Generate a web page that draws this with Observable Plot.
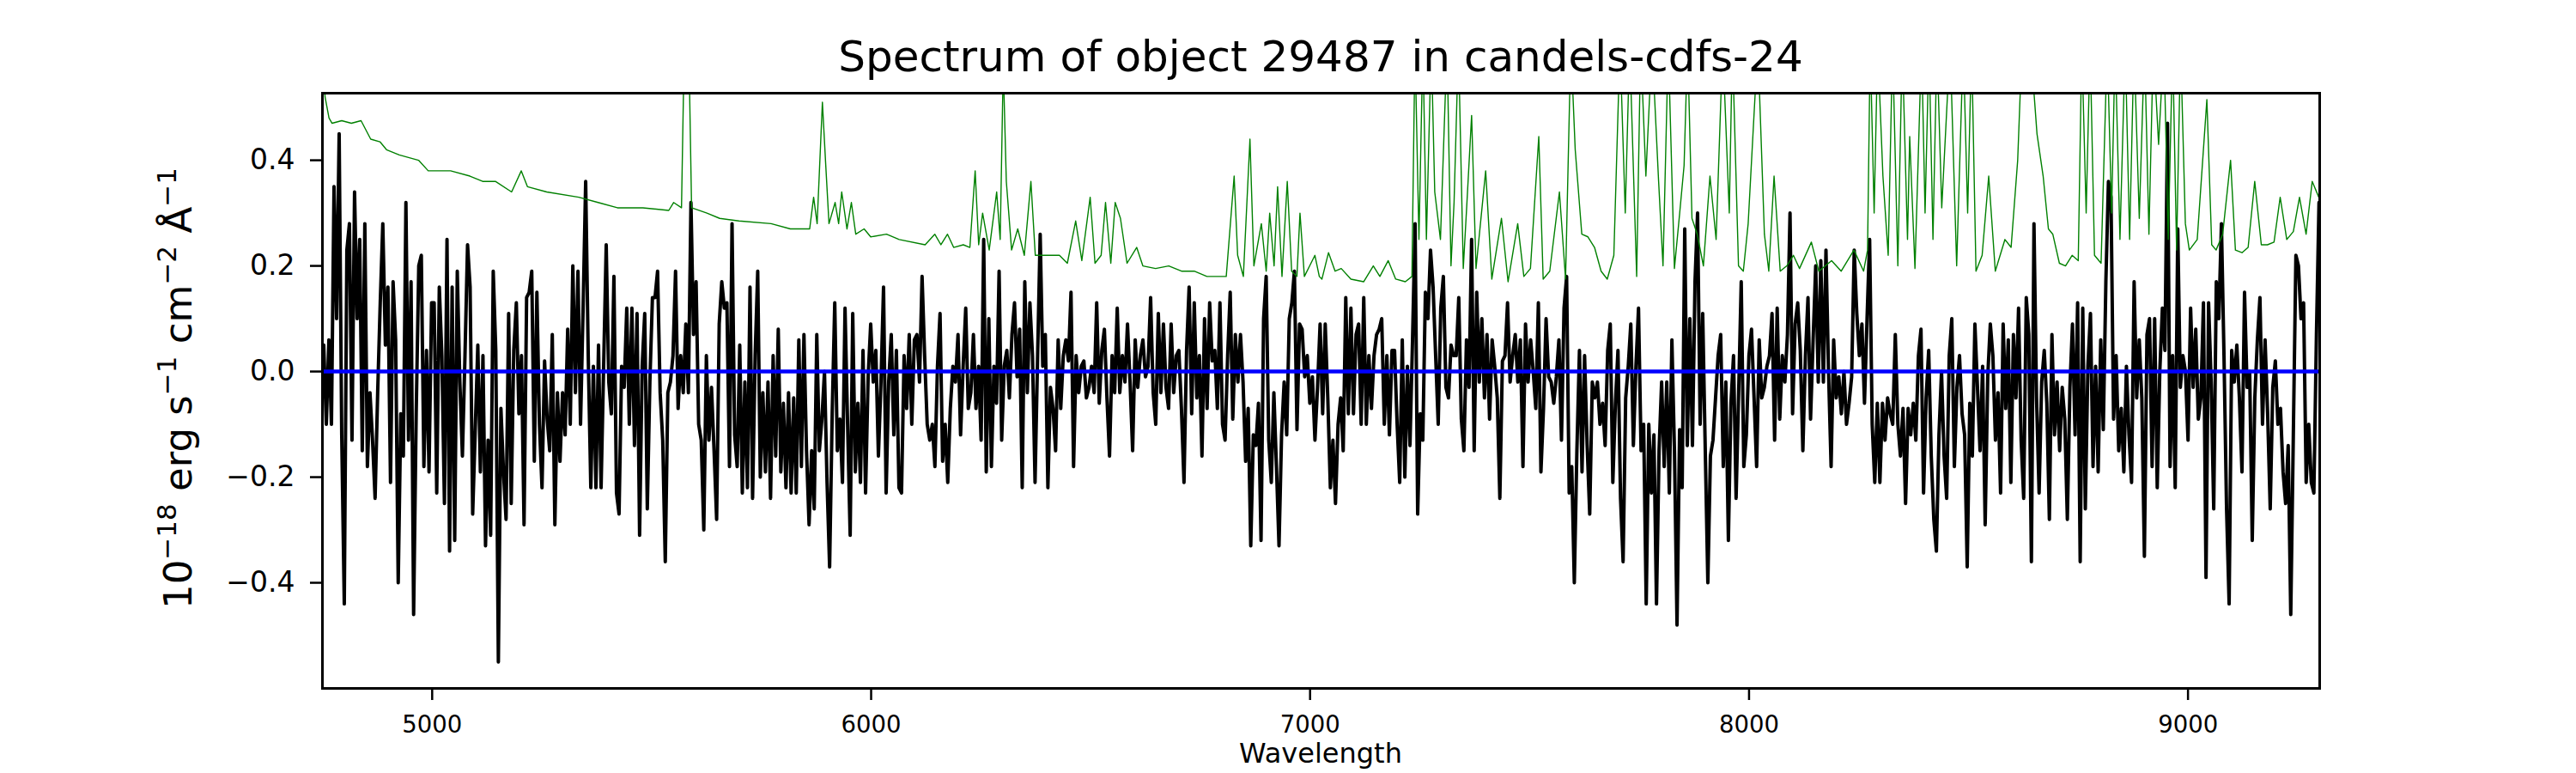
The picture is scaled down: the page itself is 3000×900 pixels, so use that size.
<!DOCTYPE html>
<html>
<head>
<meta charset="utf-8">
<script src="https://cdn.jsdelivr.net/npm/d3@7"></script>
<script src="https://cdn.jsdelivr.net/npm/@observablehq/plot@0.6"></script>
<style>
html, body { margin: 0; padding: 0; background: #fff; }
#chart { width: 3000px; height: 900px; }
</style>
</head>
<body>
<div id="chart"></div>
<script>
const title = "Spectrum of object 29487 in candels-cdfs-24";
const xLabel = "Wavelength";
const xTicks = [5000, 6000, 7000, 8000, 9000];
const yTicks = [-0.4, -0.2, 0.0, 0.2, 0.4];
const xDomain = [4750, 9300];
const yDomain = [-0.6, 0.527];

// observed flux (black), regular wavelength sampling
const fluxStart = 4753;
const fluxStep = 5.85;
const flux = [
0.05,-0.10,0.06,-0.10,0.35,0.10,0.45,-0.12,-0.44,0.23,
0.28,-0.13,0.34,0.10,0.25,-0.15,0.28,-0.18,-0.04,-0.13,
-0.24,-0.04,0.13,0.28,0.05,0.16,-0.21,0.17,0.06,-0.40,
-0.08,-0.16,0.32,-0.13,0.17,-0.46,-0.08,0.20,0.22,-0.18,
0.04,-0.19,0.13,0.13,-0.23,0.16,0.03,-0.25,0.25,-0.34,
0.16,-0.32,0.19,-0.02,-0.16,0.03,0.24,0.16,-0.27,-0.11,
0.05,-0.19,0.03,-0.33,-0.13,-0.31,0.19,0.04,-0.55,-0.07,
-0.19,-0.28,0.11,-0.25,0.04,0.13,-0.08,0.03,-0.29,0.14,
0.15,0.19,-0.17,0.15,-0.10,-0.22,0.02,-0.09,-0.15,0.07,
-0.29,-0.04,-0.17,-0.04,-0.12,0.08,-0.10,0.20,-0.04,0.19,
-0.10,0.12,0.36,0.03,-0.22,0.01,-0.22,0.05,-0.22,0.01,
0.24,-0.02,-0.08,0.18,-0.23,-0.27,0.01,-0.03,0.12,-0.10,
0.12,-0.14,0.11,-0.31,0.01,0.11,-0.26,-0.02,0.14,0.14,
0.19,-0.04,-0.13,-0.36,-0.04,-0.02,0.03,0.19,-0.07,0.03,
-0.04,0.09,-0.04,0.32,0.07,0.17,-0.10,-0.13,-0.30,0.03,
-0.13,-0.03,-0.15,-0.28,0.09,0.17,0.12,0.13,-0.18,0.28,
-0.12,-0.18,0.05,-0.23,-0.02,-0.22,0.16,-0.24,0.03,0.19,
-0.20,-0.04,-0.19,-0.02,-0.24,0.03,-0.16,0.08,-0.19,-0.06,
-0.22,-0.04,-0.23,-0.05,-0.23,0.06,-0.18,0.07,-0.15,-0.29,
-0.15,-0.26,0.07,-0.15,-0.09,0.00,-0.21,-0.37,-0.08,0.13,
-0.15,-0.09,-0.21,0.12,-0.10,-0.31,0.11,-0.19,-0.06,-0.21,
0.04,-0.23,-0.01,0.09,-0.02,0.04,-0.16,-0.02,0.16,-0.23,
-0.02,0.07,-0.12,0.04,-0.22,-0.23,0.03,-0.07,0.07,-0.10,
0.06,0.07,-0.02,0.18,0.03,-0.10,-0.13,-0.10,-0.18,0.01,
0.11,-0.17,-0.10,-0.21,-0.07,0.01,-0.02,0.07,-0.12,0.01,
0.12,-0.07,-0.04,0.07,-0.07,0.01,-0.13,0.25,-0.19,0.10,
-0.18,0.01,-0.06,0.19,-0.13,0.01,0.04,-0.05,0.07,0.13,
-0.01,0.08,-0.22,0.17,-0.04,0.13,0.03,-0.21,0.03,0.26,
0.01,0.07,-0.22,-0.03,-0.07,-0.15,0.06,-0.07,0.03,0.06,
0.02,0.15,-0.18,0.03,-0.04,0.01,0.02,-0.05,-0.03,0.01,
-0.04,0.13,-0.06,0.04,0.08,-0.05,-0.16,0.03,-0.04,0.12,
-0.04,0.03,-0.02,0.09,-0.02,-0.15,0.06,-0.03,0.03,0.06,
-0.01,0.01,0.14,-0.04,-0.10,0.11,-0.04,0.09,-0.03,-0.07,
0.09,-0.04,0.03,0.04,-0.07,-0.21,0.04,0.16,-0.08,0.13,
-0.05,0.03,-0.16,0.10,-0.07,0.13,0.02,0.04,-0.07,0.13,
-0.10,-0.13,0.03,0.15,-0.09,0.07,-0.02,0.07,-0.02,-0.17,
-0.07,-0.33,-0.12,-0.14,-0.06,-0.32,0.10,0.18,-0.13,-0.21,
-0.04,-0.18,-0.33,-0.12,-0.02,-0.12,0.10,0.13,0.19,-0.11,
0.09,0.08,-0.01,0.03,-0.06,-0.01,-0.13,-0.03,0.09,-0.08,
0.09,-0.05,-0.22,-0.13,-0.25,-0.10,-0.05,-0.15,0.14,-0.08,
0.12,-0.08,0.07,0.09,-0.10,0.14,-0.10,0.03,-0.07,0.03,
0.07,0.08,0.10,-0.10,0.03,-0.12,0.04,0.04,-0.10,-0.21,
0.06,-0.20,0.01,-0.14,0.06,0.28,-0.27,-0.08,-0.13,0.15,
0.10,0.23,0.16,0.03,-0.10,0.12,0.18,-0.03,-0.05,0.05,
0.03,0.03,0.14,-0.09,-0.15,0.06,-0.03,0.25,-0.15,0.15,
-0.02,0.10,-0.05,0.07,-0.09,0.06,0.01,-0.05,-0.24,0.02,
0.03,0.13,-0.02,0.03,0.07,-0.02,0.06,-0.18,0.09,-0.02,
0.06,0.00,-0.07,0.13,-0.19,-0.07,0.10,-0.01,-0.02,-0.06,
-0.01,0.06,-0.13,0.12,0.18,-0.23,-0.18,-0.40,-0.15,0.04,
-0.19,0.03,-0.14,-0.27,-0.02,-0.05,-0.02,-0.10,-0.06,-0.14,
0.04,0.09,-0.21,-0.06,0.04,-0.24,-0.36,-0.05,0.01,0.09,
-0.14,0.01,0.12,-0.15,-0.10,-0.44,-0.10,-0.23,-0.12,-0.44,
-0.15,-0.02,-0.18,-0.02,-0.23,0.06,-0.15,-0.48,-0.11,-0.22,
0.27,-0.14,0.10,-0.14,0.17,0.30,-0.10,0.11,-0.15,-0.40,
-0.16,-0.13,-0.05,0.03,0.07,-0.18,-0.02,-0.32,-0.06,0.03,
-0.24,-0.04,0.17,-0.18,-0.12,0.03,0.08,-0.05,-0.18,0.06,
-0.05,-0.03,0.01,0.03,0.11,-0.13,0.12,-0.09,0.03,-0.02,
0.07,0.30,-0.08,0.09,0.13,0.04,-0.15,0.03,0.14,-0.09,
0.06,0.20,-0.02,0.21,-0.02,0.23,0.00,-0.18,0.06,-0.05,
-0.01,-0.08,0.00,-0.10,-0.06,-0.01,0.23,0.11,0.03,0.09,
-0.06,0.10,0.25,-0.10,-0.21,-0.06,-0.21,-0.06,-0.13,-0.05,
-0.08,-0.10,0.07,-0.10,-0.16,-0.07,-0.25,-0.07,-0.12,-0.06,
-0.13,0.03,0.08,-0.23,-0.05,0.04,-0.16,-0.28,-0.34,-0.12,
0.00,-0.16,-0.24,0.03,0.10,-0.18,-0.03,0.03,-0.08,-0.12,
-0.37,-0.06,-0.16,0.09,-0.03,-0.15,0.01,-0.29,-0.01,0.09,
0.03,-0.13,-0.04,-0.23,0.09,-0.07,0.06,-0.21,0.07,-0.05,
0.12,-0.13,-0.24,0.14,0.07,-0.36,0.28,-0.05,-0.23,-0.02,
0.04,-0.06,-0.28,0.07,-0.12,-0.02,-0.15,-0.03,-0.09,-0.28,
-0.03,0.09,-0.12,0.13,-0.36,0.12,-0.26,0.01,0.11,-0.18,
0.01,-0.19,0.06,-0.11,0.17,0.36,0.33,-0.09,0.03,-0.15,
-0.07,-0.19,0.01,-0.12,-0.21,0.17,-0.05,0.06,-0.05,-0.35,
0.07,0.10,-0.18,0.10,-0.22,0.00,0.12,0.04,0.47,-0.18,
0.03,-0.22,0.27,-0.03,0.03,0.00,-0.13,0.12,-0.03,0.08,
-0.09,-0.05,0.13,-0.39,0.13,-0.02,-0.26,0.17,0.10,0.28,
0.03,-0.26,-0.44,0.04,-0.02,0.05,-0.05,-0.19,0.15,-0.03,
0.00,-0.32,-0.05,0.06,0.14,-0.10,0.06,-0.08,-0.26,-0.03,
0.02,-0.10,-0.07,-0.19,-0.25,-0.14,-0.46,-0.12,0.22,0.20,
0.10,0.13,-0.21,-0.10,-0.21,-0.23,0.07,0.32
];

// noise spectrum (green)
const noiseWave = [
4750,4756,4765,4772,4794,4816,4838,4860,4881,4896,
4925,4969,4991,5042,5086,5115,5144,5181,5203,5217,
5261,5334,5378,5422,5480,5539,5550,5568,5575,5584,
5591,5626,5655,5699,5772,5816,5860,5869,5877,5889,
5896,5904,5918,5926,5933,5945,5955,5965,5984,5999,
6035,6064,6123,6145,6159,6174,6188,6210,6225,6237,
6245,6254,6269,6286,6294,6301,6308,6320,6334,6349,
6364,6374,6400,6429,6447,6466,6480,6499,6510,6524,
6534,6546,6556,6568,6583,6605,6619,6648,6678,6707,
6736,6765,6809,6827,6835,6848,6863,6872,6889,6900,
6908,6918,6926,6936,6948,6958,6970,6977,6987,7011,
7021,7027,7042,7057,7071,7093,7122,7144,7159,7178,
7195,7217,7232,7239,7248,7257,7265,7276,7284,7297,
7312,7321,7328,7338,7349,7357,7368,7378,7400,7414,
7436,7451,7473,7487,7502,7521,7531,7546,7568,7582,
7594,7604,7619,7633,7648,7663,7677,7692,7706,7718,
7728,7737,7744,7753,7765,7779,7794,7804,7816,7830,
7842,7852,7860,7870,7882,7896,7911,7925,7940,7955,
7962,7976,7987,7998,8020,8035,8045,8057,8071,8086,
8101,8115,8142,8159,8188,8210,8239,8261,8270,8276,
8285,8293,8305,8317,8327,8339,8349,8361,8366,8378,
8393,8401,8410,8419,8428,8439,8458,8473,8488,8498,
8507,8517,8531,8546,8561,8583,8597,8612,8622,8641,
8656,8670,8682,8692,8707,8721,8736,8750,8758,8768,
8777,8787,8802,8816,8826,8834,8845,8857,8867,8877,
8889,8901,8911,8921,8933,8945,8955,8965,8974,8983,
8994,9003,9021,9043,9054,9064,9079,9097,9108,9123,
9137,9152,9167,9181,9196,9210,9225,9240,9254,9269,
9283,9298
];
const noiseFlux = [
0.60,0.52,0.48,0.47,0.475,0.47,0.475,0.44,0.435,0.42,
0.41,0.40,0.38,0.38,0.37,0.36,0.36,0.34,0.38,0.35,
0.34,0.33,0.32,0.31,0.31,0.305,0.32,0.31,0.65,0.65,
0.31,0.30,0.29,0.285,0.28,0.27,0.27,0.33,0.28,0.51,
0.40,0.28,0.32,0.28,0.34,0.27,0.32,0.26,0.27,0.255,
0.26,0.25,0.24,0.26,0.24,0.26,0.235,0.24,0.235,0.38,
0.24,0.30,0.23,0.34,0.25,0.58,0.36,0.23,0.27,0.22,
0.36,0.22,0.22,0.22,0.205,0.285,0.21,0.33,0.205,0.22,
0.32,0.205,0.32,0.29,0.205,0.235,0.20,0.195,0.20,0.19,
0.19,0.18,0.18,0.37,0.22,0.18,0.44,0.20,0.28,0.19,
0.30,0.20,0.35,0.18,0.36,0.19,0.18,0.30,0.18,0.22,
0.18,0.175,0.225,0.19,0.195,0.175,0.17,0.20,0.18,0.21,
0.175,0.17,0.18,0.62,0.25,0.62,0.25,0.62,0.34,0.25,
0.62,0.20,0.32,0.62,0.195,0.315,0.485,0.195,0.38,0.175,
0.29,0.17,0.28,0.18,0.195,0.445,0.175,0.19,0.34,0.175,
0.62,0.42,0.26,0.255,0.235,0.19,0.175,0.22,0.62,0.30,
0.62,0.37,0.18,0.62,0.37,0.62,0.36,0.20,0.62,0.195,
0.30,0.39,0.62,0.29,0.26,0.20,0.37,0.25,0.62,0.30,
0.62,0.20,0.19,0.28,0.62,0.26,0.19,0.37,0.19,0.20,
0.22,0.195,0.245,0.19,0.21,0.19,0.23,0.19,0.23,0.62,
0.30,0.62,0.37,0.22,0.62,0.20,0.62,0.25,0.445,0.195,
0.62,0.30,0.62,0.25,0.62,0.31,0.62,0.20,0.62,0.30,
0.62,0.19,0.22,0.37,0.19,0.25,0.235,0.40,0.62,0.62,
0.45,0.37,0.27,0.26,0.205,0.20,0.22,0.21,0.62,0.30,
0.62,0.22,0.205,0.62,0.30,0.62,0.25,0.62,0.25,0.62,
0.29,0.62,0.26,0.62,0.43,0.62,0.25,0.62,0.23,0.62,
0.28,0.23,0.25,0.515,0.24,0.23,0.26,0.40,0.23,0.225,
0.235,0.36,0.24,0.24,0.245,0.33,0.25,0.265,0.33,0.26,
0.36,0.33
];

// model continuum (blue)
const modelLevel = [0];

const fluxData = flux.map((v, i) => ({w: fluxStart + i * fluxStep, v}));
const noiseData = noiseWave.map((w, i) => ({w, v: noiseFlux[i]}));

const W = 3000, H = 900, mL = 375, mR = 299, mT = 108, mB = 99;
const fmtY = d3.format(".1f");

const plot = Plot.plot({
  width: W,
  height: H,
  marginLeft: mL,
  marginRight: mR,
  marginTop: mT,
  marginBottom: mB,
  style: {fontFamily: "DejaVu Sans", color: "black", background: "white", overflow: "visible"},
  x: {domain: xDomain},
  y: {domain: yDomain},
  marks: [
    Plot.line(fluxData, {x: "w", y: "v", stroke: "black", strokeWidth: 4, clip: true}),
    Plot.ruleY(modelLevel, {stroke: "#0000ff", strokeWidth: 4.5}),
    Plot.line(noiseData, {x: "w", y: "v", stroke: "#008000", strokeWidth: 1.4, clip: true}),
    Plot.frame({stroke: "black", strokeWidth: 3}),
    Plot.axisX({ticks: xTicks, tickSize: 14, tickPadding: 17.5, fontSize: 27.5, strokeWidth: 2.5, label: null, tickFormat: d => String(d)}),
    Plot.axisY({ticks: yTicks, tickSize: 14, tickPadding: 18, fontSize: 33, strokeWidth: 2.5, label: null, tickFormat: d => fmtY(d)})
  ]
});

const svg = d3.select(plot);
const cx = (mL + (W - mR)) / 2;

svg.append("text")
  .attr("x", cx).attr("y", 83)
  .attr("text-anchor", "middle")
  .attr("font-size", 50)
  .attr("font-family", "DejaVu Sans")
  .attr("fill", "black")
  .text(title);

svg.append("text")
  .attr("x", cx).attr("y", 888)
  .attr("text-anchor", "middle")
  .attr("font-size", 32)
  .attr("font-family", "DejaVu Sans")
  .attr("fill", "black")
  .text(xLabel);

const yl = svg.append("text")
  .attr("transform", `translate(223, 452) rotate(-90)`)
  .attr("text-anchor", "middle")
  .attr("font-size", 45)
  .attr("font-family", "DejaVu Sans")
  .attr("fill", "black");
const parts = [["10", false], ["\u221218", true], [" erg s", false], ["\u22121", true], [" cm", false], ["\u22122", true], [" \u00c5", false], ["\u22121", true]];
let raised = false;
parts.forEach(([t, sup]) => {
  const ts = yl.append("tspan").text(t);
  if (sup) {
    ts.attr("font-size", 31);
    if (!raised) { ts.attr("dy", -18); raised = true; }
  } else {
    ts.attr("font-size", 45);
    if (raised) { ts.attr("dy", 18); raised = false; }
  }
});

document.getElementById("chart").appendChild(plot);
</script>
</body>
</html>
